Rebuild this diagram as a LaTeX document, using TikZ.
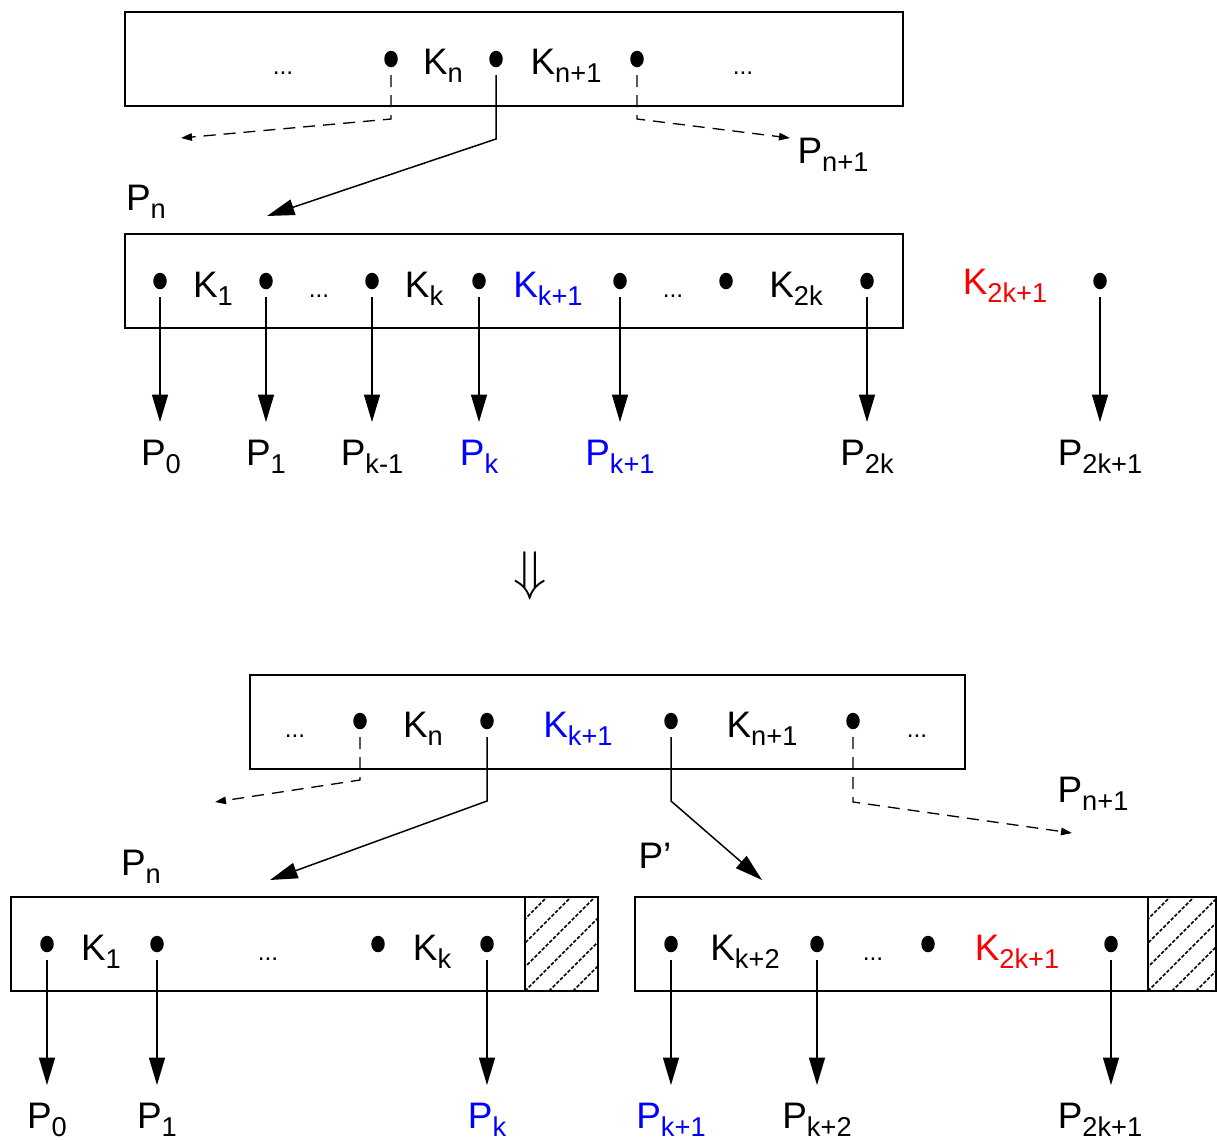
\documentclass[tikz,border=0pt]{standalone}
\usepackage{fontspec}
\setmainfont{Liberation Sans}
\usepackage{tikz}
\usetikzlibrary{arrows.meta, shapes.geometric}

% key with a lowered index
\newcommand{\withsub}[2]{#1\raisebox{-4.8pt}{\fontsize{15.5}{17}\selectfont #2}}

\tikzset{
  keybox/.style={line width=1.4pt},
  ptr/.style={line width=0.85pt, -{Triangle[length=0.55cm, width=0.32cm]}},
  dptr/.style={line width=0.75pt, dash pattern=on 0.24cm off 0.16cm, -{Triangle[length=0.22cm, width=0.15cm]}},
  ptrdot/.style={ellipse, fill, inner sep=0pt, minimum width=0.27cm, minimum height=0.33cm, outer sep=4.5pt},
  txt/.style={font=\fontsize{21}{25}\selectfont, inner sep=0pt, anchor=base},
  plab/.style={txt, outer sep=10pt},
  ell/.style={font=\fontsize{14}{16}\selectfont, inner sep=0pt, anchor=base},
  hatch/.style={line width=0.9pt, dash pattern=on 2pt off 1pt}
}

\begin{document}
\begin{tikzpicture}[x=0.02cm, y=-0.02cm]
    \useasboundingbox (0,0) rectangle (1217,1140);

    % Parent node before the split
    \draw[keybox] (125,12) rectangle (903,106);
    \node[ptrdot] (t1) at (391,59) {};
    \node[ptrdot] (t2) at (496,59) {};
    \node[ptrdot] (t3) at (637,59) {};
    \node[ell] (te1) at (283,74) {...};
    \node[txt] (tkn) at (443,74) {\withsub{K}{n}};
    \node[txt] (tkn1) at (566,74) {\withsub{K}{n+1}};
    \node[ell] (te2) at (743,74) {...};

    % Pointers out of the parent
    \coordinate (tb1) at (391,119);
    \coordinate (tend1) at (181,138);
    \coordinate (tb2) at (496,139);
    \coordinate (tend2) at (267,216);
    \coordinate (tb3) at (637,119);
    \coordinate (tend3) at (790,138);
    \draw[dptr] (t1.south) -- (tb1) -- (tend1);
    \draw[ptr] (t2.south) -- (tb2) -- (tend2);
    \draw[dptr] (t3.south) -- (tb3) -- (tend3);
    \node[txt] (tpn1) at (833,163) {\withsub{P}{n+1}};
    \node[txt] (tpn) at (146,210) {\withsub{P}{n}};

    % Overfull node P_n
    \draw[keybox] (125,234) rectangle (903,328);
    \node[ptrdot] (m0) at (160,281) {};
    \node[ptrdot] (m1) at (266,281) {};
    \node[ptrdot] (m2) at (372,281) {};
    \node[ptrdot] (m3) at (479,281) {};
    \node[ptrdot] (m4) at (620,281) {};
    \node[ptrdot] (m5) at (726,281) {};
    \node[ptrdot] (m6) at (867,281) {};
    \node[ptrdot] (m7) at (1100,281) {};
    \node[txt] (mk1) at (213,297) {\withsub{K}{1}};
    \node[ell] (me1) at (319,297) {...};
    \node[txt] (mkk) at (424,297) {\withsub{K}{k}};
    \node[txt, blue] (mkk1) at (548,297) {\withsub{K}{k+1}};
    \node[ell] (me2) at (673,297) {...};
    \node[txt] (mk2k) at (796,297) {\withsub{K}{2k}};
    \node[txt, red] (mk2k1) at (1005,294) {\withsub{K}{2k+1}};

    \node[plab] (p0) at (161,465) {\withsub{P}{0}};
    \node[plab] (p1) at (266,465) {\withsub{P}{1}};
    \node[plab] (p2) at (372,465) {\withsub{P}{k-1}};
    \node[plab, blue] (p3) at (479,465) {\withsub{P}{k}};
    \node[plab, blue] (p4) at (620,465) {\withsub{P}{k+1}};
    \node[plab] (p6) at (867,465) {\withsub{P}{2k}};
    \node[plab] (p7) at (1100,465) {\withsub{P}{2k+1}};
    \draw[ptr] (m0.south) -- (m0.south |- p0.north);
    \draw[ptr] (m1.south) -- (m1.south |- p1.north);
    \draw[ptr] (m2.south) -- (m2.south |- p2.north);
    \draw[ptr] (m3.south) -- (m3.south |- p3.north);
    \draw[ptr] (m4.south) -- (m4.south |- p4.north);
    \draw[ptr] (m6.south) -- (m6.south |- p6.north);
    \draw[ptr] (m7.south) -- (m7.south |- p7.north);

    % Split
    \node[scale=3.1] (split) at (530,576) {$\Downarrow$};

    % Parent node after the split
    \draw[keybox] (250,675) rectangle (965,769);
    \node[ptrdot] (b1) at (360,721) {};
    \node[ptrdot] (b2) at (487,721) {};
    \node[ptrdot] (b3) at (671,721) {};
    \node[ptrdot] (b4) at (853,721) {};
    \node[ell] (be1) at (295,737) {...};
    \node[txt] (bkn) at (423,737) {\withsub{K}{n}};
    \node[txt, blue] (bkk1) at (578,737) {\withsub{K}{k+1}};
    \node[txt] (bkn1) at (762,737) {\withsub{K}{n+1}};
    \node[ell] (be2) at (917,737) {...};

    \coordinate (bb1) at (360,780);
    \coordinate (bend1) at (215,802);
    \coordinate (bb2) at (487,801);
    \coordinate (bend2) at (270,880);
    \coordinate (bb3) at (671,801);
    \coordinate (bend3) at (762,880);
    \coordinate (bb4) at (853,802);
    \coordinate (bend4) at (1072,833);
    \draw[dptr] (b1.south) -- (bb1) -- (bend1);
    \draw[ptr] (b2.south) -- (bb2) -- (bend2);
    \draw[ptr] (b3.south) -- (bb3) -- (bend3);
    \draw[dptr] (b4.south) -- (bb4) -- (bend4);
    \node[txt] (bpn1) at (1093,802) {\withsub{P}{n+1}};
    \node[txt] (bpn) at (141,875) {\withsub{P}{n}};
    \node[txt] (bpq) at (655,868) {P’};

    % Left half P_n
    \begin{scope}
      \clip (525,897) rectangle (598,991);
      \foreach \s in {-96,-72,...,96}
        \draw[hatch] (525+\s,991) -- ++(100,-100);
    \end{scope}
    \draw[keybox] (11,897) rectangle (598,991);
    \draw[keybox] (525,897) -- (525,991);
    \node[ptrdot] (l0) at (47,944) {};
    \node[ptrdot] (l1) at (157,944) {};
    \node[ptrdot] (l2) at (378,944) {};
    \node[ptrdot] (l3) at (487,944) {};
    \node[txt] (lk1) at (101,960) {\withsub{K}{1}};
    \node[ell] (le1) at (268,960) {...};
    \node[txt] (lkk) at (432,960) {\withsub{K}{k}};
    \node[plab] (lp0) at (47,1128) {\withsub{P}{0}};
    \node[plab] (lp1) at (157,1128) {\withsub{P}{1}};
    \node[plab, blue] (lpk) at (487,1128) {\withsub{P}{k}};
    \draw[ptr] (l0.south) -- (l0.south |- lp0.north);
    \draw[ptr] (l1.south) -- (l1.south |- lp1.north);
    \draw[ptr] (l3.south) -- (l3.south |- lpk.north);

    % Right half P'
    \begin{scope}
      \clip (1148,897) rectangle (1217,991);
      \foreach \s in {-96,-72,...,96}
        \draw[hatch] (1148+\s,991) -- ++(100,-100);
    \end{scope}
    \draw[keybox] (635,897) rectangle (1216,991);
    \draw[keybox] (1148,897) -- (1148,991);
    \node[ptrdot] (r0) at (671,944) {};
    \node[ptrdot] (r1) at (817,944) {};
    \node[ptrdot] (r2) at (928,944) {};
    \node[ptrdot] (r3) at (1111,944) {};
    \node[txt] (rkk2) at (745,960) {\withsub{K}{k+2}};
    \node[ell] (re1) at (873,960) {...};
    \node[txt, red] (rk2k1) at (1017,960) {\withsub{K}{2k+1}};
    \node[plab, blue] (rpk1) at (671,1128) {\withsub{P}{k+1}};
    \node[plab] (rpk2) at (817,1128) {\withsub{P}{k+2}};
    \node[plab] (rp2k1) at (1100,1128) {\withsub{P}{2k+1}};
    \draw[ptr] (r0.south) -- (r0.south |- rpk1.north);
    \draw[ptr] (r1.south) -- (r1.south |- rpk2.north);
    \draw[ptr] (r3.south) -- (r3.south |- rp2k1.north);

\end{tikzpicture}
\end{document}
